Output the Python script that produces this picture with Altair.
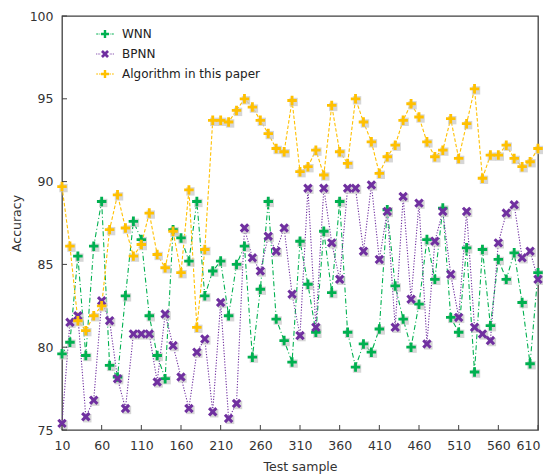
import math
import altair as alt
import pandas as pd

# ---------------- data ----------------
samples = list(range(10, 620, 10))
wnn = [79.6, 80.3, 85.5, 79.5, 86.1, 88.8, 78.9, 78.2, 83.1, 87.6,
       86.5, 81.9, 79.5, 78.1, 87.1, 86.6, 85.2, 88.8, 83.1, 84.6,
       85.2, 81.9, 85.0, 86.1, 79.4, 83.5, 88.8, 81.7, 80.4, 79.1,
       86.4, 83.8, 80.9, 87.0, 83.3, 88.8, 80.9, 78.8, 80.2, 79.7,
       81.1, 88.3, 83.7, 81.7, 80.0, 82.6, 86.5, 84.1, 88.4, 81.8,
       80.9, 86.0, 78.5, 85.9, 81.3, 85.3, 84.1, 85.7, 82.7, 79.0,
       84.5]
bpnn = [75.4, 81.5, 81.9, 75.8, 76.8, 82.8, 81.6, 78.1, 76.3, 80.8,
        80.8, 80.8, 77.9, 82.0, 80.1, 78.2, 76.3, 79.7, 80.5, 76.1,
        82.7, 75.7, 76.6, 87.2, 85.4, 84.6, 86.7, 85.8, 87.2, 83.2,
        80.7, 89.6, 81.2, 89.6, 86.3, 84.1, 89.6, 89.6, 85.8, 89.8,
        85.3, 88.2, 81.2, 89.1, 82.9, 88.7, 80.2, 86.4, 88.2, 84.4,
        81.8, 88.2, 81.2, 80.8, 80.4, 86.3, 88.1, 88.6, 85.4, 85.8,
        84.1]
ours = [89.7, 86.1, 81.6, 81.0, 81.9, 82.5, 87.1, 89.2, 87.2, 85.5,
        86.2, 88.1, 85.6, 84.8, 87.0, 84.5, 89.5, 81.2, 85.9, 93.7,
        93.7, 93.6, 94.3, 95.0, 94.5, 93.7, 92.9, 92.0, 91.8, 94.9,
        90.6, 90.9, 91.9, 90.4, 94.6, 91.8, 91.1, 95.0, 93.6, 92.4,
        90.5, 91.5, 92.2, 93.7, 94.7, 93.9, 92.4, 91.5, 91.9, 93.8,
        91.4, 93.5, 95.6, 90.2, 91.6, 91.6, 92.2, 91.4, 90.9, 91.2,
        92.0]
series_names = ["WNN", "BPNN", "Algorithm in this paper"]
x_ticks = [10, 60, 110, 160, 210, 260, 310, 360, 410, 460, 510, 560, 610]
y_ticks = [75, 80, 85, 90, 95, 100]

# ---------------- styling ----------------
colors = ["#00b050", "#7030a0", "#ffc000"]
FONT = "DejaVu Sans"
AXIS_COLOR = "#404040"


def plus_path(t=0.3):
    return (f"M-1,-{t}H-{t}V-1H{t}V-{t}H1V{t}H{t}V1H-{t}V{t}H-1Z")


def x_path(t=0.32):
    L = math.sqrt(2) - t
    pts = [(-L, -t), (-t, -t), (-t, -L), (t, -L), (t, -t), (L, -t),
           (L, t), (t, t), (t, L), (-t, L), (-t, t), (-L, t)]
    r = 1 / math.sqrt(2)
    rot = [((x - y) * r, (x + y) * r) for x, y in pts]
    return "M" + "L".join(f"{a:.3f},{b:.3f}" for a, b in rot) + "Z"


def segs(pairs, h=0.13):
    return "".join(f"M{a},{-h}H{b}V{h}H{a}Z" for a, b in pairs)


def mirror(pairs):
    return pairs + [(-b, -a) for a, b in pairs]


PLUS = plus_path()
XSHAPE = x_path()
leg_paths = [
    segs(mirror([(-2.2, -1.65), (-1.4, -1.2)])) + plus_path(0.3),
    segs(mirror([(-2.2, -2.0), (-1.8, -1.6), (-1.4, -1.2)])) + x_path(0.34),
    segs(mirror([(-2.2, -1.75), (-1.5, -1.1)])) + plus_path(0.3),
]

rows = []
for name, vals in zip(series_names, [wnn, bpnn, ours]):
    for s, v in zip(samples, vals):
        rows.append({"sample": s, "acc": v, "series": name})
df = pd.DataFrame(rows)

x_scale = alt.Scale(domain=[10, 610], nice=False, zero=False)
y_scale = alt.Scale(domain=[75, 100], nice=False, zero=False)
x_axis = alt.Axis(values=x_ticks, title="Test sample", ticks=False, domain=False,
                  grid=False, labelPadding=9, titlePadding=9, labelFont=FONT,
                  labelFontSize=12.5, labelColor="#333", titleFont=FONT,
                  labelOverlap=False, labelFlush=False, labelBound=False,
                  labelOffset={"condition": {"test": "datum.value == 610",
                                             "value": -10}, "value": 0},
                  titleFontSize=12.5, titleFontWeight="normal", titleColor="#333")
y_axis = alt.Axis(values=y_ticks, title="Accuracy", ticks=False, domain=False,
                  grid=False, labelPadding=9, titlePadding=6, labelFont=FONT,
                  labelOverlap=False, labelFlush=False,
                  labelFontSize=12.5, labelColor="#333", titleFont=FONT,
                  titleFontSize=12.5, titleFontWeight="normal", titleColor="#333")

X = alt.X("sample:Q", scale=x_scale, axis=x_axis)
Y = alt.Y("acc:Q", scale=y_scale, axis=y_axis)
color_scale = alt.Scale(domain=series_names, range=colors)

lines = alt.Chart(df).mark_line(strokeWidth=1.1).encode(
    x=X, y=Y,
    color=alt.Color("series:N", scale=color_scale, legend=None),
    strokeDash=alt.StrokeDash("series:N", scale=alt.Scale(
        domain=series_names, range=[[5, 2.5, 1, 2.5], [1.2, 1.6], [3.5, 2]]),
        legend=None),
)

shadows = alt.Chart(df).mark_point(
    shape="square", filled=True, size=70, color="#c8c8c8", opacity=0.75,
    xOffset=1.5, yOffset=1.5,
).encode(x=X, y=Y)

markers = alt.Chart(df).mark_point(filled=True, opacity=1, size=90).encode(
    x=X, y=Y,
    color=alt.Color("series:N", scale=color_scale, legend=None),
    shape=alt.Shape("series:N", scale=alt.Scale(
        domain=series_names, range=[PLUS, XSHAPE, PLUS]), legend=None),
)

legend = alt.Legend(title=None, orient="none", legendX=37, legendY=12,
                    labelFont=FONT, labelFontSize=12, labelColor="#222",
                    symbolSize=64, symbolStrokeWidth=0, symbolOpacity=1,
                    labelOffset=11, rowPadding=8, padding=0)
legend_layer = alt.Chart(df).transform_filter(
    "datum.series == 'none'"
).mark_point(filled=True, opacity=1, size=64).encode(
    x=X, y=Y,
    color=alt.Color("series:N", scale=color_scale, legend=legend),
    shape=alt.Shape("series:N", scale=alt.Scale(
        domain=series_names, range=leg_paths), legend=legend),
)

tick_x = alt.Chart(pd.DataFrame({"t": x_ticks})).mark_rule(
    color=AXIS_COLOR, strokeWidth=1
).encode(x=alt.X("t:Q", scale=x_scale, axis=x_axis),
         y=alt.value(414), y2=alt.value(409))
tick_y = alt.Chart(pd.DataFrame({"t": y_ticks})).mark_rule(
    color=AXIS_COLOR, strokeWidth=1
).encode(y=alt.Y("t:Q", scale=y_scale, axis=y_axis),
         x=alt.value(0), x2=alt.value(5))

chart = alt.layer(
    lines, shadows, markers, legend_layer, tick_x, tick_y
).resolve_scale(
    color="independent", shape="independent", strokeDash="independent"
).properties(
    width=476, height=414,
    autosize=alt.AutoSizeParams(type="none"),
    padding={"left": 54, "top": 8, "right": 5, "bottom": 44},
    background="white",
).configure_view(stroke=AXIS_COLOR, strokeWidth=1.3)

chart.save("out.html", embed_options={"renderer": "svg", "actions": False})
